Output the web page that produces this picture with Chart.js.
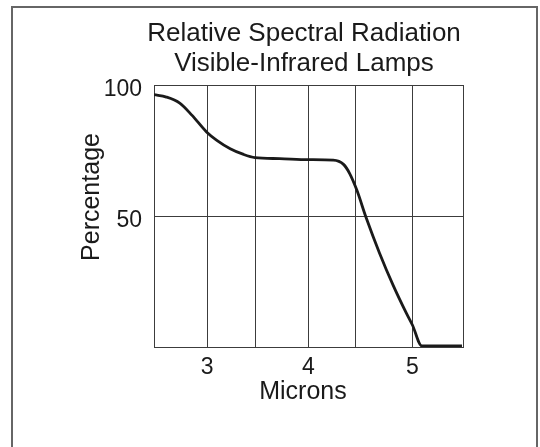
<!DOCTYPE html>
<html>
<head>
<meta charset="utf-8">
<title>Relative Spectral Radiation</title>
<script src="https://cdn.jsdelivr.net/npm/chart.js@4.4.1/dist/chart.umd.min.js"></script>
<style>
  html, body { margin: 0; padding: 0; background: #fff; }
  #wrap { position: relative; width: 540px; height: 447px; overflow: hidden; }
  #frame {
    position: absolute; left: 11px; top: 6px; width: 527px; height: 460px;
    box-sizing: border-box; border: 2px solid #666; border-bottom: none;
    pointer-events: none;
  }
</style>
</head>
<body>
<div id="wrap">
  <canvas id="chart" width="540" height="447"></canvas>
  <div id="frame"></div>
</div>
<script>
// Data
const TITLE_LINES = ['Relative Spectral Radiation', 'Visible-Infrared Lamps'];
const X_TITLE = 'Microns';
const Y_TITLE = 'Percentage';

const microns = [2.5, 2.62, 2.75, 2.87, 3.01, 3.11, 3.24, 3.37, 3.48, 3.72, 4.0,
  4.24, 4.34, 4.40, 4.47, 4.56, 4.69, 4.82, 4.95, 5.01, 5.10, 5.49];
const percentage = [96.3, 95.4, 93.1, 88.4, 82.1, 78.9, 75.7, 73.5, 72.3, 71.9, 71.5,
  71.3, 69.7, 66.2, 59.8, 49.3, 35.8, 23.7, 12.9, 8.3, 0.4, 0.4];

// grid lines (x) and the labels shown under them
const xTicks = [2.5, 3.015, 3.49, 4.0, 4.46, 5.008, 5.5];
const xTickLabels = ['', '3', '', '4', '', '5', ''];
const yTicks = [0, 50, 100];
const yTickLabels = ['', '50', '100'];

const FONT = "'Liberation Sans', Arial, Helvetica, sans-serif";
const INK = '#1a1a1a';
const GRID = '#3c3c3c';

// title + axis titles, placed like the scan
const textPlugin = {
  id: 'textPlugin',
  afterDraw(chart) {
    const { ctx, chartArea: a } = chart;
    ctx.save();
    ctx.fillStyle = INK;
    ctx.textAlign = 'center';
    ctx.textBaseline = 'middle';

    ctx.font = `26px ${FONT}`;
    TITLE_LINES.forEach((t, i) => ctx.fillText(t, 304, 34 + i * 30));

    ctx.font = `25px ${FONT}`;
    ctx.fillText(X_TITLE, 303, a.bottom + 45);

    ctx.translate(92, 197);
    ctx.rotate(-Math.PI / 2);
    ctx.fillText(Y_TITLE, 0, 0);
    ctx.restore();
  },
};

new Chart(document.getElementById('chart').getContext('2d'), {
  type: 'line',
  data: {
    datasets: [{
      data: microns.map((x, i) => ({ x, y: percentage[i] })),
      borderColor: INK,
      borderWidth: 2.8,
      pointRadius: 0,
      cubicInterpolationMode: 'monotone',
      fill: false,
    }],
  },
  options: {
    responsive: false,
    devicePixelRatio: 1,
    animation: false,
    layout: { padding: { top: 85, right: 77, bottom: 40, left: 100 } },
    plugins: {
      legend: { display: false },
      title: { display: false },
      tooltip: { enabled: false },
    },
    scales: {
      x: {
        type: 'linear',
        min: 2.5,
        max: 5.5,
        afterBuildTicks(scale) { scale.ticks = xTicks.map(v => ({ value: v })); },
        afterFit(scale) { scale.height = 60; },
        grid: { color: GRID, lineWidth: 1, drawTicks: false },
        border: { color: GRID, width: 1 },
        ticks: {
          autoSkip: false,
          maxRotation: 0,
          padding: 7,
          color: INK,
          font: { size: 23, family: FONT },
          callback(v, i) { return xTickLabels[i]; },
        },
      },
      y: {
        min: 0,
        max: 100,
        afterBuildTicks(scale) { scale.ticks = yTicks.map(v => ({ value: v })); },
        afterFit(scale) { scale.width = 54; },
        grid: { color: GRID, lineWidth: 1, drawTicks: false },
        border: { color: GRID, width: 1 },
        ticks: {
          padding: 12,
          labelOffset: 5,
          color: INK,
          font: { size: 23, family: FONT },
          callback(v, i) { return yTickLabels[i]; },
        },
      },
    },
  },
  plugins: [textPlugin],
});
</script>
</body>
</html>
